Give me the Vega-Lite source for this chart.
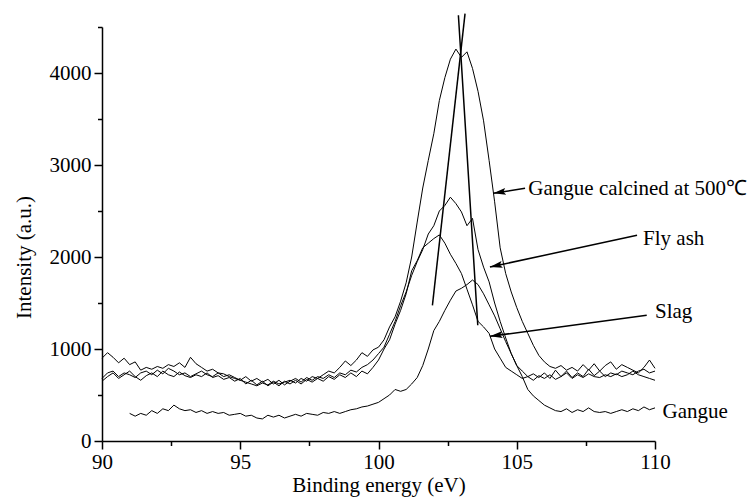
{
  "$schema": "https://vega.github.io/schema/vega-lite/v6.json",
  "width": 553,
  "height": 414,
  "autosize": {"type": "none"},
  "padding": {"left": 102, "top": 27, "right": 93, "bottom": 61},
  "background": "white",
  "config": {
    "view": {"stroke": null},
    "font": "Times New Roman, Liberation Serif, serif",
    "axis": {
      "domainColor": "black", "domainWidth": 1.5,
      "tickColor": "black", "tickWidth": 1.5,
      "labelColor": "black", "labelFont": "Times New Roman, Liberation Serif, serif", "labelFontSize": 21,
      "titleColor": "black", "titleFont": "Times New Roman, Liberation Serif, serif", "titleFontSize": 21, "titleFontWeight": "normal",
      "grid": false, "labelOverlap": false, "labelFlush": false
    }
  },
  "datasets": {
    "spectra": [
      {"e":90.0,"c":900,"f":680,"s":650,"g":null},
      {"e":90.2,"c":960,"f":740,"s":700,"g":null},
      {"e":90.4,"c":910,"f":760,"s":740,"g":null},
      {"e":90.6,"c":850,"f":700,"s":680,"g":null},
      {"e":90.8,"c":900,"f":740,"s":720,"g":null},
      {"e":91.0,"c":830,"f":720,"s":760,"g":300},
      {"e":91.2,"c":860,"f":690,"s":700,"g":270},
      {"e":91.4,"c":770,"f":740,"s":660,"g":300},
      {"e":91.6,"c":800,"f":760,"s":710,"g":280},
      {"e":91.8,"c":780,"f":720,"s":740,"g":330},
      {"e":92.0,"c":810,"f":770,"s":700,"g":300},
      {"e":92.2,"c":790,"f":730,"s":760,"g":350},
      {"e":92.4,"c":830,"f":790,"s":720,"g":330},
      {"e":92.6,"c":810,"f":760,"s":700,"g":390},
      {"e":92.8,"c":850,"f":720,"s":750,"g":350},
      {"e":93.0,"c":800,"f":740,"s":710,"g":330},
      {"e":93.2,"c":910,"f":700,"s":690,"g":340},
      {"e":93.4,"c":840,"f":730,"s":720,"g":310},
      {"e":93.6,"c":800,"f":760,"s":700,"g":330},
      {"e":93.8,"c":760,"f":720,"s":740,"g":300},
      {"e":94.0,"c":780,"f":700,"s":690,"g":320},
      {"e":94.2,"c":740,"f":740,"s":710,"g":300},
      {"e":94.4,"c":730,"f":700,"s":670,"g":310},
      {"e":94.6,"c":700,"f":720,"s":690,"g":280},
      {"e":94.8,"c":680,"f":690,"s":650,"g":290},
      {"e":95.0,"c":660,"f":660,"s":680,"g":300},
      {"e":95.2,"c":640,"f":700,"s":620,"g":270},
      {"e":95.4,"c":620,"f":650,"s":660,"g":280},
      {"e":95.6,"c":600,"f":680,"s":610,"g":250},
      {"e":95.8,"c":630,"f":640,"s":650,"g":240},
      {"e":96.0,"c":610,"f":670,"s":600,"g":280},
      {"e":96.2,"c":650,"f":620,"s":640,"g":260},
      {"e":96.4,"c":620,"f":660,"s":600,"g":280},
      {"e":96.6,"c":640,"f":610,"s":650,"g":250},
      {"e":96.8,"c":660,"f":650,"s":620,"g":270},
      {"e":97.0,"c":630,"f":680,"s":660,"g":290},
      {"e":97.2,"c":680,"f":640,"s":620,"g":270},
      {"e":97.4,"c":650,"f":690,"s":670,"g":300},
      {"e":97.6,"c":700,"f":660,"s":640,"g":290},
      {"e":97.8,"c":680,"f":700,"s":680,"g":280},
      {"e":98.0,"c":720,"f":680,"s":650,"g":310},
      {"e":98.2,"c":760,"f":720,"s":700,"g":300},
      {"e":98.4,"c":740,"f":690,"s":670,"g":320},
      {"e":98.6,"c":800,"f":740,"s":720,"g":300},
      {"e":98.8,"c":870,"f":720,"s":690,"g":320},
      {"e":99.0,"c":820,"f":770,"s":740,"g":340},
      {"e":99.2,"c":880,"f":750,"s":700,"g":350},
      {"e":99.4,"c":960,"f":800,"s":760,"g":370},
      {"e":99.6,"c":920,"f":830,"s":730,"g":380},
      {"e":99.8,"c":990,"f":880,"s":800,"g":400},
      {"e":100.0,"c":1020,"f":950,"s":880,"g":420},
      {"e":100.2,"c":1100,"f":1020,"s":1000,"g":460},
      {"e":100.4,"c":1240,"f":1160,"s":1100,"g":500},
      {"e":100.6,"c":1350,"f":1300,"s":1270,"g":560},
      {"e":100.8,"c":1520,"f":1470,"s":1420,"g":540},
      {"e":101.0,"c":1720,"f":1620,"s":1600,"g":560},
      {"e":101.2,"c":2000,"f":1800,"s":1850,"g":620},
      {"e":101.4,"c":2380,"f":1950,"s":1960,"g":690},
      {"e":101.6,"c":2750,"f":2080,"s":2100,"g":820},
      {"e":101.8,"c":3050,"f":2250,"s":2150,"g":1000},
      {"e":102.0,"c":3340,"f":2340,"s":2200,"g":1200},
      {"e":102.2,"c":3700,"f":2500,"s":2240,"g":1300},
      {"e":102.4,"c":3950,"f":2560,"s":2150,"g":1420},
      {"e":102.6,"c":4150,"f":2650,"s":2030,"g":1530},
      {"e":102.8,"c":4260,"f":2580,"s":1930,"g":1630},
      {"e":103.0,"c":4170,"f":2490,"s":1820,"g":1660},
      {"e":103.2,"c":4230,"f":2340,"s":1650,"g":1700},
      {"e":103.4,"c":4050,"f":2420,"s":1480,"g":1750},
      {"e":103.6,"c":3800,"f":2080,"s":1300,"g":1700},
      {"e":103.8,"c":3480,"f":1890,"s":1240,"g":1600},
      {"e":104.0,"c":3050,"f":1730,"s":1170,"g":1480},
      {"e":104.2,"c":2600,"f":1500,"s":1000,"g":1360},
      {"e":104.4,"c":2100,"f":1300,"s":900,"g":1220},
      {"e":104.6,"c":1820,"f":1120,"s":800,"g":1080},
      {"e":104.8,"c":1620,"f":950,"s":760,"g":950},
      {"e":105.0,"c":1450,"f":820,"s":720,"g":820},
      {"e":105.2,"c":1300,"f":760,"s":680,"g":700},
      {"e":105.4,"c":1170,"f":700,"s":700,"g":560},
      {"e":105.6,"c":1040,"f":730,"s":660,"g":490},
      {"e":105.8,"c":930,"f":690,"s":710,"g":440},
      {"e":106.0,"c":860,"f":740,"s":680,"g":390},
      {"e":106.2,"c":810,"f":680,"s":720,"g":360},
      {"e":106.4,"c":790,"f":770,"s":670,"g":330},
      {"e":106.6,"c":820,"f":700,"s":700,"g":320},
      {"e":106.8,"c":770,"f":760,"s":740,"g":350},
      {"e":107.0,"c":800,"f":690,"s":680,"g":310},
      {"e":107.2,"c":760,"f":740,"s":720,"g":340},
      {"e":107.4,"c":830,"f":700,"s":690,"g":320},
      {"e":107.6,"c":770,"f":780,"s":730,"g":360},
      {"e":107.8,"c":840,"f":710,"s":700,"g":320},
      {"e":108.0,"c":760,"f":760,"s":690,"g":310},
      {"e":108.2,"c":820,"f":700,"s":720,"g":320},
      {"e":108.4,"c":860,"f":740,"s":700,"g":300},
      {"e":108.6,"c":780,"f":720,"s":730,"g":320},
      {"e":108.8,"c":830,"f":760,"s":700,"g":340},
      {"e":109.0,"c":800,"f":740,"s":720,"g":320},
      {"e":109.2,"c":770,"f":720,"s":760,"g":350},
      {"e":109.4,"c":740,"f":760,"s":720,"g":330},
      {"e":109.6,"c":800,"f":780,"s":700,"g":370},
      {"e":109.8,"c":880,"f":740,"s":680,"g":340},
      {"e":110.0,"c":790,"f":760,"s":660,"g":360}
    ],
    "tangents": [
      {"x1": 101.95, "y1": 1475, "x2": 103.13, "y2": 4645},
      {"x1": 102.89, "y1": 4627, "x2": 103.59, "y2": 1258}
    ],
    "arrows": [
      {"name": "calcined", "tx": 105.30, "ty": 2747, "hx": 104.15, "hy": 2692},
      {"name": "flyash", "tx": 109.35, "ty": 2236, "hx": 104.03, "hy": 1891},
      {"name": "slag", "tx": 109.70, "ty": 1366, "hx": 104.03, "hy": 1138}
    ],
    "labels": [
      {"x": 105.42, "y": 2743, "text": "Gangue calcined at 500℃"},
      {"x": 109.57, "y": 2200, "text": "Fly ash"},
      {"x": 110.0, "y": 1402, "text": "Slag"},
      {"x": 110.27, "y": 315, "text": "Gangue"}
    ]
  },
  "layer": [
    {
      "data": {"name": "spectra"},
      "transform": [
        {"fold": ["c", "f", "s", "g"], "as": ["series", "value"]},
        {"filter": "datum.value != null"}
      ],
      "mark": {"type": "line", "color": "black", "strokeWidth": 1},
      "encoding": {
        "x": {
          "field": "e", "type": "quantitative",
          "scale": {"domain": [90, 110], "nice": false, "zero": false},
          "axis": {
            "title": "Binding energy (eV)",
            "values": [90, 92.5, 95, 97.5, 100, 102.5, 105, 107.5, 110],
            "labelExpr": "datum.value % 5 === 0 ? datum.label : ''",
            "tickSize": {"condition": {"test": "datum.value % 5 === 0", "value": 8}, "value": 4.5},
            "labelPadding": 2,
            "titleBaseline": "alphabetic",
            "titleY": 50
          }
        },
        "y": {
          "field": "value", "type": "quantitative",
          "scale": {"domain": [0, 4500], "nice": false},
          "axis": {
            "title": "Intensity (a.u.)",
            "values": [0, 500, 1000, 1500, 2000, 2500, 3000, 3500, 4000, 4500],
            "format": "d",
            "labelExpr": "datum.value % 1000 === 0 ? datum.label : ''",
            "tickSize": {"condition": {"test": "datum.value % 1000 === 0", "value": 8}, "value": 4.5},
            "labelPadding": 3,
            "titleX": -72,
            "titleY": 230,
            "titleAlign": "center",
            "titleBaseline": "alphabetic",
            "titleAngle": -90
          }
        },
        "detail": {"field": "series"}
      }
    },
    {
      "data": {"name": "tangents"},
      "mark": {"type": "rule", "color": "black", "strokeWidth": 1.5, "clip": false},
      "encoding": {
        "x": {"field": "x1", "type": "quantitative"},
        "y": {"field": "y1", "type": "quantitative"},
        "x2": {"field": "x2"},
        "y2": {"field": "y2"}
      }
    },
    {
      "data": {"name": "arrows"},
      "mark": {"type": "rule", "color": "black", "strokeWidth": 1.5},
      "encoding": {
        "x": {"field": "tx", "type": "quantitative"},
        "y": {"field": "ty", "type": "quantitative"},
        "x2": {"field": "hx"},
        "y2": {"field": "hy"}
      }
    },
    {
      "data": {"name": "arrows"},
      "transform": [{"filter": "datum.name === 'calcined'"}],
      "mark": {"type": "point", "filled": true, "color": "black", "opacity": 1, "size": 130, "angle": -9, "shape": "M0,0 L2.2,-0.6 L1.8,0 L2.2,0.6 Z"},
      "encoding": {
        "x": {"field": "hx", "type": "quantitative"},
        "y": {"field": "hy", "type": "quantitative"}
      }
    },
    {
      "data": {"name": "arrows"},
      "transform": [{"filter": "datum.name === 'flyash'"}],
      "mark": {"type": "point", "filled": true, "color": "black", "opacity": 1, "size": 130, "angle": -12, "shape": "M0,0 L2.2,-0.6 L1.8,0 L2.2,0.6 Z"},
      "encoding": {
        "x": {"field": "hx", "type": "quantitative"},
        "y": {"field": "hy", "type": "quantitative"}
      }
    },
    {
      "data": {"name": "arrows"},
      "transform": [{"filter": "datum.name === 'slag'"}],
      "mark": {"type": "point", "filled": true, "color": "black", "opacity": 1, "size": 130, "angle": -8, "shape": "M0,0 L2.2,-0.6 L1.8,0 L2.2,0.6 Z"},
      "encoding": {
        "x": {"field": "hx", "type": "quantitative"},
        "y": {"field": "hy", "type": "quantitative"}
      }
    },
    {
      "data": {"name": "labels"},
      "mark": {"type": "text", "align": "left", "baseline": "middle", "font": "Times New Roman, Liberation Serif, serif", "fontSize": 21, "color": "black"},
      "encoding": {
        "x": {"field": "x", "type": "quantitative"},
        "y": {"field": "y", "type": "quantitative"},
        "text": {"field": "text"}
      }
    }
  ]
}
